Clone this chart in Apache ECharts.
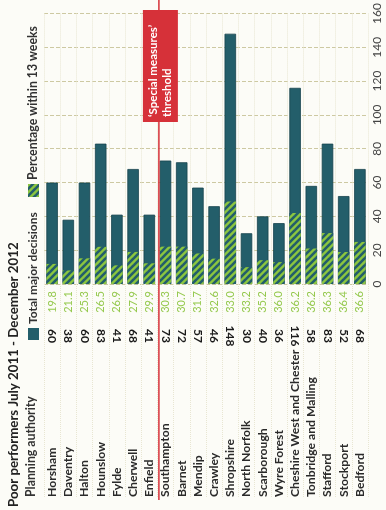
<!DOCTYPE html>
<html>
<head>
<meta charset="utf-8">
<script src="https://cdn.jsdelivr.net/npm/echarts@6/dist/echarts.min.js"></script>
<style>
html, body { margin: 0; padding: 0; background: #fcfcf7; }
#main { width: 386px; height: 510px; }
</style>
</head>
<body>
<div id="main"></div>
<script>
// data
var authorities = ['Horsham', 'Daventry', 'Halton', 'Hounslow', 'Fylde', 'Cherwell', 'Enfield',
    'Southampton', 'Barnet', 'Mendip', 'Crawley', 'Shropshire', 'North Norfolk', 'Scarborough',
    'Wyre Forest', 'Cheshire West and Chester', 'Tonbridge and Malling', 'Stafford', 'Stockport', 'Bedford'];
var totalDecisions = [60, 38, 60, 83, 41, 68, 41, 73, 72, 57, 46, 148, 30, 40, 36, 116, 58, 83, 52, 68];
var pctWithin13 = [19.8, 21.1, 25.3, 26.5, 26.9, 27.9, 29.9, 30.3, 30.7, 31.7, 32.6, 33.0, 33.2, 35.2,
    36.0, 36.2, 36.2, 36.3, 36.4, 36.6];
var valueMin = 0, valueMax = 160, valueStep = 20;
var thresholdLeft = 'Enfield', thresholdRight = 'Southampton';

// number of decisions made within 13 weeks = total * percentage
var within13 = totalDecisions.map(function (v, i) { return v * pctWithin13[i] / 100; });

var teal = '#235e6a';
var green = '#8cc63f';
var red = '#d63139';

// hatched fill
function makeHatch() {
    var c = document.createElement('canvas');
    c.width = 7; c.height = 7;
    var ctx = c.getContext('2d');
    ctx.fillStyle = green;
    ctx.fillRect(0, 0, 7, 7);
    ctx.strokeStyle = teal;
    ctx.lineWidth = 2.6;
    for (var k = -1; k <= 1; k++) {
        ctx.beginPath();
        ctx.moveTo(k * 7 - 1, 8);
        ctx.lineTo(k * 7 + 8, -1);
        ctx.stroke();
    }
    return c;
}
var hatch = { image: makeHatch(), repeat: 'repeat' };

var font = 'Lato, "Open Sans", sans-serif';
var chart = echarts.init(document.getElementById('main'));

var option = {
    backgroundColor: '#fcfcf7',
    animation: false,
    grid: [
        { left: 44, right: 18, top: 13, bottom: 226 },
        { left: 44, right: 18, top: 284, bottom: 13 },
        { left: 44, right: 18, top: 284, bottom: 13 }
    ],
    xAxis: [
        {
            type: 'category', gridIndex: 0, data: authorities,
            axisLine: { show: false }, axisTick: { show: false }, axisLabel: { show: false },
            splitLine: { show: true, interval: 0, lineStyle: { color: '#e8e6d2', type: 'dotted' } }
        },
        {
            // authority names
            type: 'category', gridIndex: 1, position: 'bottom', data: authorities,
            axisLine: { show: false }, axisTick: { show: false },
            axisLabel: {
                interval: 0, rotate: 90, margin: 0, align: 'left', verticalAlign: 'middle',
                color: '#2a2a2a', fontSize: 12.2, fontWeight: 'bold', fontFamily: font
            },
            splitLine: { show: true, interval: 0, lineStyle: { color: '#e8e6d2', type: 'dotted' } }
        },
        {
            // total decisions
            type: 'category', gridIndex: 1, position: 'top', data: authorities,
            axisLine: { show: false }, axisTick: { show: false },
            axisLabel: {
                interval: 0, rotate: 90, margin: -52, align: 'center', verticalAlign: 'middle',
                color: '#1a1a1a', fontSize: 12, fontWeight: 'bold', fontFamily: font,
                formatter: function (v, i) { return String(totalDecisions[i]); }
            }
        },
        {
            // percentage within 13 weeks
            type: 'category', gridIndex: 2, position: 'top', data: authorities,
            axisLine: { show: false }, axisTick: { show: false },
            axisLabel: {
                interval: 0, rotate: 90, margin: -18, align: 'center', verticalAlign: 'middle',
                color: '#95c94e', fontSize: 11, fontFamily: font,
                formatter: function (v, i) { return pctWithin13[i].toFixed(1); }
            }
        }
    ],
    yAxis: [
        {
            type: 'value', gridIndex: 0, position: 'right',
            min: valueMin, max: valueMax, interval: valueStep,
            axisLine: { show: false }, axisTick: { show: false },
            axisLabel: {
                rotate: 90, margin: 9, align: 'center', verticalAlign: 'middle',
                color: '#444', fontSize: 12, fontFamily: font
            },
            splitLine: { lineStyle: { color: '#cdc9a2', type: [4, 2], width: 1 } }
        },
        { type: 'value', gridIndex: 1, show: false },
        { type: 'value', gridIndex: 2, show: false }
    ],
    series: [
        {
            name: 'Total major decisions', type: 'bar', xAxisIndex: 0, yAxisIndex: 0,
            data: totalDecisions, barWidth: 11.5,
            itemStyle: { color: teal, borderColor: '#17434c', borderWidth: 0.8 }
        },
        {
            name: 'Percentage within 13 weeks', type: 'bar', xAxisIndex: 0, yAxisIndex: 0,
            data: within13, barWidth: 11.5, barGap: '-100%',
            itemStyle: { color: hatch }
        }
    ]
};
chart.setOption(option);

// threshold line between Enfield and Southampton, from the axis scale
var xL = chart.convertToPixel({ xAxisIndex: 0 }, thresholdLeft);
var xR = chart.convertToPixel({ xAxisIndex: 0 }, thresholdRight);
var xT = (xL + xR) / 2 + 1.5;

function vtext(x, y, text, size, weight, color, z) {
    return {
        type: 'text', x: x, y: y, rotation: Math.PI / 2, z: z || 20,
        style: {
            text: text, fill: color || '#222', align: 'left', verticalAlign: 'middle',
            font: (weight || 'normal') + ' ' + size + 'px ' + font
        }
    };
}

chart.setOption({
    graphic: [
        vtext(14, 507, 'Poor performers July 2011 - December 2012', 13.3, 'bold'),
        vtext(31, 497, 'Planning authority', 12.3, 'bold', '#333'),
        { type: 'rect', shape: { x: 28, y: 328, width: 11, height: 12 }, style: { fill: teal }, z: 20 },
        vtext(33, 324, 'Total major decisions', 12, 'bold', '#333'),
        { type: 'rect', shape: { x: 28, y: 184, width: 11, height: 13 }, style: { fill: hatch }, z: 20 },
        vtext(33, 180, 'Percentage within 13 weeks', 12.3, 'bold', '#333'),
        { type: 'line', shape: { x1: xT, y1: 0, x2: xT, y2: 500 }, style: { stroke: red, lineWidth: 1.5 }, z: 30 },
        { type: 'rect', shape: { x: xT - 16, y: 10, width: 35, height: 112 }, style: { fill: red }, z: 31 },
        vtext(xT - 6, 117, '\u2018Special measures\u2019', 11.5, 'bold', '#fff', 40),
        vtext(xT + 8, 117, 'threshold', 11.5, 'bold', '#fff', 40)
    ]
});
</script>
</body>
</html>
